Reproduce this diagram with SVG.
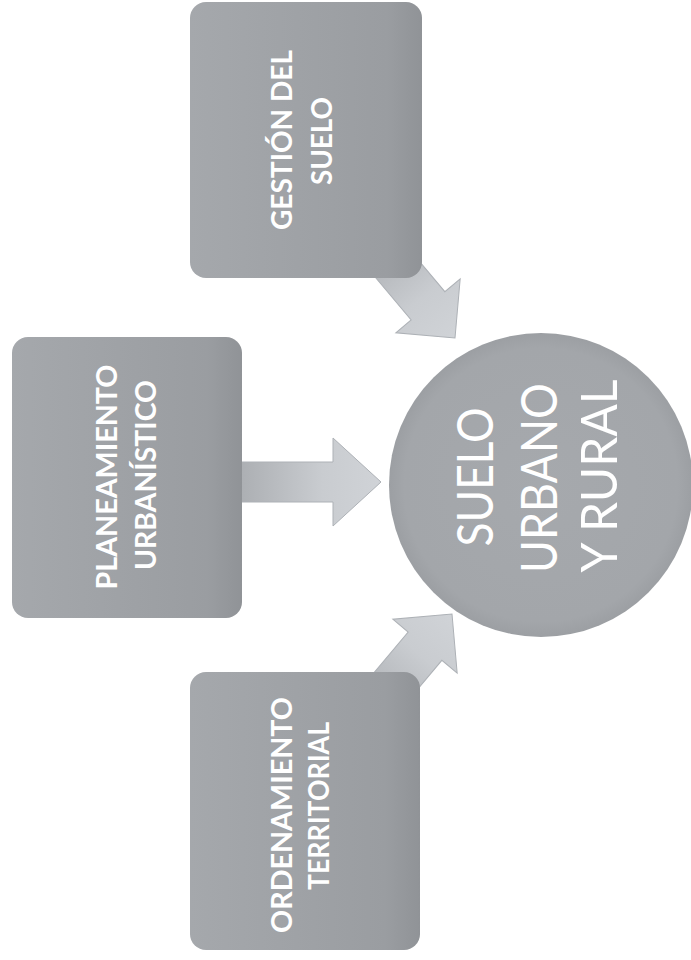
<svg xmlns="http://www.w3.org/2000/svg" width="691" height="960" viewBox="0 0 691 960">
<style>
.box{stroke:none}
.bt{font-family:Lato,"Open Sans","Liberation Sans",sans-serif;font-weight:700;font-size:29px;fill:#ffffff;text-anchor:middle}
.ct{font-family:Lato,"Open Sans","Liberation Sans",sans-serif;font-weight:400;font-size:50px;fill:#ffffff;text-anchor:middle}
.arr{stroke:#adb1b6;stroke-width:1}
</style>
<defs>
<linearGradient id="gBox" x1="0" y1="0" x2="1" y2="0">
<stop offset="0" stop-color="#a5a8ac"/>
<stop offset="0.85" stop-color="#9a9da1"/>
<stop offset="1" stop-color="#909397"/>
</linearGradient>
<linearGradient id="gArr" x1="0" y1="0" x2="1" y2="0">
<stop offset="0" stop-color="#aaadb1"/>
<stop offset="0.6" stop-color="#c9ccd0"/>
<stop offset="1" stop-color="#d0d3d7"/>
</linearGradient>
<radialGradient id="gCirc" cx="0.5" cy="0.5" r="0.5">
<stop offset="0" stop-color="#a6a9ad"/>
<stop offset="0.9" stop-color="#a3a6aa"/>
<stop offset="1" stop-color="#9c9fa3"/>
</radialGradient>
</defs>
<rect width="691" height="960" fill="#ffffff"/>
<g id="connectors">
<path class="arr" fill="url(#gArr)" d="M235,462 L333,462 L333,438 L381,482 L333,526 L333,502 L235,502 Z"/>
<path class="arr" fill="url(#gArr)" transform="translate(455,338) rotate(50)" d="M-130,-22 L-42,-22 L-42,-42 L0,0 L-42,42 L-42,22 L-130,22 Z"/>
<path class="arr" fill="url(#gArr)" transform="translate(452,614) rotate(-50)" d="M-130,-22 L-42,-22 L-42,-42 L0,0 L-42,42 L-42,22 L-130,22 Z"/>
</g>
<g id="gestion">
<rect class="box" x="190" y="2" width="232" height="276" rx="16" fill="url(#gBox)"/>
<text class="bt" transform="translate(292,140) rotate(-90)" textLength="180" lengthAdjust="spacingAndGlyphs">GESTIÓN DEL</text>
<text class="bt" transform="translate(332,141) rotate(-90)" textLength="88" lengthAdjust="spacingAndGlyphs">SUELO</text>
</g>
<g id="planeamiento">
<rect class="box" x="12" y="337" width="230" height="281" rx="16" fill="url(#gBox)"/>
<text class="bt" transform="translate(117,477) rotate(-90)" textLength="225" lengthAdjust="spacingAndGlyphs">PLANEAMIENTO</text>
<text class="bt" transform="translate(156,475) rotate(-90)" textLength="190" lengthAdjust="spacingAndGlyphs">URBANÍSTICO</text>
</g>
<g id="ordenamiento">
<rect class="box" x="190" y="672" width="230" height="278" rx="16" fill="url(#gBox)"/>
<text class="bt" transform="translate(292,815) rotate(-90)" textLength="236" lengthAdjust="spacingAndGlyphs">ORDENAMIENTO</text>
<text class="bt" transform="translate(329,806) rotate(-90)" textLength="168" lengthAdjust="spacingAndGlyphs">TERRITORIAL</text>
</g>
<g id="suelo">
<circle cx="541" cy="485" r="152" fill="url(#gCirc)"/>
<text class="ct" transform="translate(493,477) rotate(-90)" textLength="139" lengthAdjust="spacingAndGlyphs">SUELO</text>
<text class="ct" transform="translate(557,478) rotate(-90)" textLength="190" lengthAdjust="spacingAndGlyphs">URBANO</text>
<text class="ct" transform="translate(617,476) rotate(-90)" textLength="193" lengthAdjust="spacingAndGlyphs">Y RURAL</text>
</g>
</svg>
